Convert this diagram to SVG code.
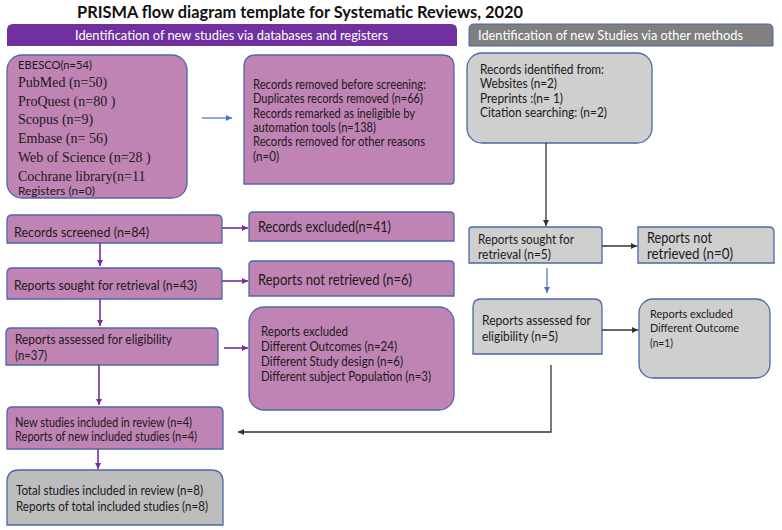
<svg xmlns="http://www.w3.org/2000/svg" width="782" height="530" viewBox="0 0 782 530">
<defs>
<style>
.t{font-family:Lato,"Liberation Sans",sans-serif;fill:#1a1a1a;}
.s{font-family:"Liberation Serif","Times New Roman",serif;fill:#1a1a1a;font-size:14px;}
.pk{fill:#C084B4;stroke:#4F67A8;stroke-width:1.3;}
.gy{fill:#CFCFCF;stroke:#4F67A8;stroke-width:1.3;}
.gt{fill:#BDBDBD;stroke:#4F67A8;stroke-width:1.3;}
.lp{stroke:#7030A0;stroke-width:1.6;fill:none;}
.lb{stroke:#4472C4;stroke-width:1.2;fill:none;}
.lk{stroke:#333;stroke-width:1.3;fill:none;}
.hd{font-family:Lato,"Liberation Sans",sans-serif;fill:#fff;font-size:14px;}
</style>
<marker id="ap" markerWidth="8" markerHeight="8" refX="6" refY="4" orient="auto" markerUnits="userSpaceOnUse"><path d="M0,1 L6,4 L0,7 z" fill="#7030A0"/></marker>
<marker id="ab" markerWidth="8" markerHeight="8" refX="6" refY="4" orient="auto" markerUnits="userSpaceOnUse"><path d="M0,1 L6,4 L0,7 z" fill="#4472C4"/></marker>
<marker id="ak" markerWidth="8" markerHeight="8" refX="6" refY="4" orient="auto" markerUnits="userSpaceOnUse"><path d="M0,1 L6,4 L0,7 z" fill="#333"/></marker>
</defs>
<rect width="782" height="530" fill="#fff"/>
<text x="77" y="18" font-family="Lato,'Liberation Sans',sans-serif" font-weight="bold" font-size="17.5" fill="#111" textLength="446" lengthAdjust="spacingAndGlyphs">PRISMA flow diagram template for Systematic Reviews, 2020</text>

<g id="hdr-left">
<path d="M7,46 V30 Q7,24 13,24 H451 Q457,24 457,30 V46 Z" fill="#7030A0"/>
<text class="hd" x="75" y="40" textLength="313" lengthAdjust="spacingAndGlyphs">Identification of new studies via databases and registers</text>
</g>
<g id="hdr-right">
<path d="M469,46 V29 Q469,24 474,24 H768 Q773,24 773,29 V46 Z" fill="#7F7F7F" stroke="#4F67A8" stroke-width="1"/>
<text class="hd" x="478" y="40" textLength="265" lengthAdjust="spacingAndGlyphs">Identification of new Studies via other methods</text>
</g>

<g id="n-sources">
<rect class="pk" x="7" y="55" width="180" height="143" rx="15"/>
<text class="t" x="18" y="69" font-size="12" textLength="74" lengthAdjust="spacingAndGlyphs">EBESCO(n=54)</text>
<text class="s" x="18" y="87">PubMed (n=50)</text>
<text class="s" x="18" y="106">ProQuest (n=80  )</text>
<text class="s" x="18" y="124">Scopus (n=9)</text>
<text class="s" x="18" y="143">Embase (n= 56)</text>
<text class="s" x="18" y="162">Web of Science (n=28 )</text>
<text class="s" x="18" y="181">Cochrane library(n=11</text>
<text class="t" x="18" y="195" font-size="12" textLength="77" lengthAdjust="spacingAndGlyphs">Registers (n=0)</text>
</g>

<g id="n-removed">
<path class="pk" d="M244,184 V67 Q244,55 256,55 H442 Q454,55 454,67 V181 Q454,184 451,184 Z"/>
<g class="t" font-size="12.5">
<text x="253" y="89" textLength="173" lengthAdjust="spacingAndGlyphs">Records removed before screening:</text>
<text x="253" y="103" textLength="170" lengthAdjust="spacingAndGlyphs">Duplicates records removed (n=66)</text>
<text x="253" y="117.5" textLength="162" lengthAdjust="spacingAndGlyphs">Records remarked as ineligible by</text>
<text x="253" y="131.5" textLength="123" lengthAdjust="spacingAndGlyphs">automation tools (n=138)</text>
<text x="253" y="146" textLength="172" lengthAdjust="spacingAndGlyphs">Records removed for other reasons</text>
<text x="253" y="161" textLength="26" lengthAdjust="spacingAndGlyphs">(n=0)</text>
</g>
</g>

<g id="n-other">
<rect class="gy" x="467" y="53" width="185" height="90" rx="15"/>
<g class="t" font-size="12.5">
<text x="480" y="74" textLength="124" lengthAdjust="spacingAndGlyphs">Records identified from:</text>
<text x="480" y="88" textLength="77" lengthAdjust="spacingAndGlyphs">Websites (n=2)</text>
<text x="480" y="103" textLength="83" lengthAdjust="spacingAndGlyphs">Preprints :(n= 1)</text>
<text x="480" y="117" textLength="127" lengthAdjust="spacingAndGlyphs">Citation searching: (n=2)</text>
</g>
</g>

<g id="n-screened">
<path class="pk" d="M7,243 V220 Q7,215 12,215 H217 Q222,215 222,220 V243 Z"/>
<text class="t" x="14" y="237" font-size="13.5" textLength="135" lengthAdjust="spacingAndGlyphs">Records screened (n=84)</text>
</g>
<g id="n-excluded">
<path class="pk" d="M249,241 V216 Q249,212 253,212 H450 Q454,212 454,216 V241 Z"/>
<text class="t" x="258" y="232" font-size="14.5" textLength="133" lengthAdjust="spacingAndGlyphs">Records excluded(n=41)</text>
</g>

<g id="n-sought">
<path class="pk" d="M7,299 V273 Q7,268 12,268 H217 Q222,268 222,273 V299 Z"/>
<text class="t" x="14" y="290" font-size="13.5" textLength="183" lengthAdjust="spacingAndGlyphs">Reports sought for retrieval (n=43)</text>
</g>
<g id="n-notretrieved">
<path class="pk" d="M249,296 V265 Q249,261 253,261 H450 Q454,261 454,265 V296 Z"/>
<text class="t" x="258" y="285" font-size="14.5" textLength="154" lengthAdjust="spacingAndGlyphs">Reports not retrieved  (n=6)</text>
</g>

<g id="n-assessed">
<path class="pk" d="M6,365 V333 Q6,328 11,328 H213 Q218,328 218,333 V365 Z"/>
<text class="t" x="15" y="344" font-size="12.5" textLength="157" lengthAdjust="spacingAndGlyphs">Reports assessed for eligibility</text>
<text class="t" x="15" y="360" font-size="12.5" textLength="32" lengthAdjust="spacingAndGlyphs">(n=37)</text>
</g>
<g id="n-reportsexcl">
<rect class="pk" x="249" y="307" width="205" height="103" rx="15"/>
<g class="t" font-size="12.5">
<text x="261" y="336" textLength="87" lengthAdjust="spacingAndGlyphs">Reports excluded</text>
<text x="261" y="351" textLength="136" lengthAdjust="spacingAndGlyphs">Different Outcomes (n=24)</text>
<text x="261" y="366" textLength="142" lengthAdjust="spacingAndGlyphs">Different Study design (n=6)</text>
<text x="261" y="381" textLength="170" lengthAdjust="spacingAndGlyphs">Different subject Population (n=3)</text>
</g>
</g>

<g id="n-new">
<path class="pk" d="M7,449 V412 Q7,407 12,407 H218 Q223,407 223,412 V449 Z"/>
<text class="t" x="15" y="427" font-size="12.5" textLength="177" lengthAdjust="spacingAndGlyphs">New studies included in review (n=4)</text>
<text class="t" x="15" y="441" font-size="12.5" textLength="182" lengthAdjust="spacingAndGlyphs">Reports of new included studies (n=4)</text>
</g>
<g id="n-total">
<path class="gt" d="M7,525 V482 Q7,470 19,470 H211 Q223,470 223,482 V525 Z"/>
<text class="t" x="16" y="495" font-size="13" textLength="187" lengthAdjust="spacingAndGlyphs">Total studies included in review (n=8)</text>
<text class="t" x="16" y="511" font-size="13" textLength="192" lengthAdjust="spacingAndGlyphs">Reports of total included studies (n=8)</text>
</g>

<g id="n-sought2">
<path class="gy" d="M469,263 V230 Q469,227 472,227 H599 Q602,227 602,230 V263 Z"/>
<text class="t" x="478" y="244" font-size="13.5" textLength="96" lengthAdjust="spacingAndGlyphs">Reports sought for</text>
<text class="t" x="478" y="259" font-size="13.5" textLength="73" lengthAdjust="spacingAndGlyphs">retrieval (n=5)</text>
</g>
<g id="n-notretrieved2">
<path class="gy" d="M638,263 V227 H769 Q774,227 774,232 V263 Z"/>
<text class="t" x="647" y="243" font-size="14.5" textLength="65" lengthAdjust="spacingAndGlyphs">Reports not</text>
<text class="t" x="647" y="259" font-size="14.5" textLength="86" lengthAdjust="spacingAndGlyphs">retrieved  (n=0)</text>
</g>
<g id="n-assessed2">
<path class="gy" d="M473,354 V307 Q473,299 481,299 H594 Q602,299 602,307 V354 Z"/>
<text class="t" x="482" y="325" font-size="13.5" textLength="109" lengthAdjust="spacingAndGlyphs">Reports assessed  for</text>
<text class="t" x="482" y="341" font-size="13.5" textLength="76" lengthAdjust="spacingAndGlyphs">eligibility (n=5)</text>
</g>
<g id="n-excl2">
<rect class="gy" x="639" y="299" width="131" height="79" rx="14"/>
<g class="t" font-size="11.5">
<text x="650" y="318" textLength="83" lengthAdjust="spacingAndGlyphs">Reports excluded</text>
<text x="650" y="332" textLength="89" lengthAdjust="spacingAndGlyphs">Different Outcome</text>
<text x="650" y="347" textLength="23" lengthAdjust="spacingAndGlyphs">(n=1)</text>
</g>
</g>

<g id="connectors">
<line class="lb" x1="202" y1="118" x2="232" y2="118" marker-end="url(#ab)"/>
<line class="lp" x1="222" y1="228" x2="248" y2="228" marker-end="url(#ap)"/>
<line class="lp" x1="100" y1="243" x2="100" y2="266" marker-end="url(#ap)"/>
<line class="lp" x1="222" y1="281" x2="248" y2="281" marker-end="url(#ap)"/>
<line class="lp" x1="100" y1="299" x2="100" y2="326" marker-end="url(#ap)"/>
<line class="lp" x1="224" y1="348" x2="248" y2="348" marker-end="url(#ap)"/>
<line class="lp" x1="99" y1="365" x2="99" y2="405" marker-end="url(#ap)"/>
<line class="lp" x1="98" y1="449" x2="98" y2="469" marker-end="url(#ap)"/>
<line class="lk" x1="546" y1="143" x2="546" y2="226" marker-end="url(#ak)"/>
<line class="lk" x1="602" y1="246" x2="637" y2="246" marker-end="url(#ak)"/>
<line class="lb" x1="547" y1="268" x2="547" y2="293" marker-end="url(#ab)"/>
<line class="lk" x1="602" y1="330" x2="638" y2="330" marker-end="url(#ak)"/>
<polyline class="lk" points="551,365 551,432 238,432" marker-end="url(#ak)"/>
</g>
</svg>
